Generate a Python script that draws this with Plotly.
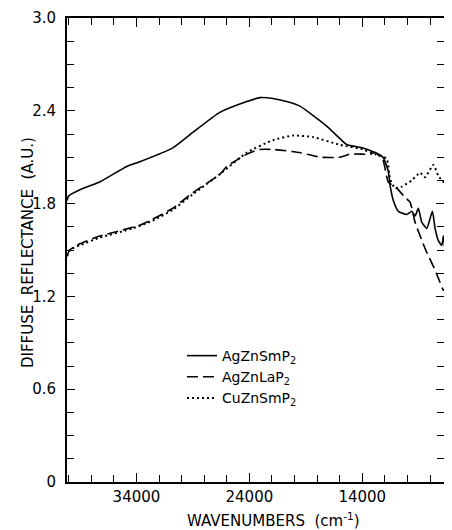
import plotly.graph_objects as go

# wavenumber (cm-1) and reflectance values
wn_agznsm = [40150, 40000, 39000, 37250, 34860, 33710, 30782, 29009, 26616, 24222,
             23070, 21917, 20700, 19524, 17130, 15978, 15357, 13939, 12875, 12166,
             11699, 11545, 11252, 10810, 10064, 9621, 9329, 9036, 8735, 8292,
             7796, 7557, 7263, 6962, 6820, 6669, 6377, 6226, 6075]
r_agznsm = [1.82, 1.85, 1.89, 1.94, 2.04, 2.07, 2.16, 2.26, 2.39, 2.46,
            2.485, 2.48, 2.46, 2.43, 2.30, 2.22, 2.18, 2.16, 2.13, 2.10,
            2.01, 1.92, 1.82, 1.75, 1.73, 1.75, 1.72, 1.77, 1.68, 1.64,
            1.75, 1.64, 1.56, 1.53, 1.59, 1.50, 1.61, 1.58, 1.60]

wn_agznla = [40150, 39913, 39026, 37250, 33710, 32555, 30782, 29009, 26616, 25995,
             24222, 23070, 21917, 19524, 17750, 15978, 15091, 13318, 12875, 12166,
             11699, 10950, 10215, 9772, 9329, 8442, 7557, 7113, 6820, 6519, 6075]
r_agznla = [1.46, 1.50, 1.54, 1.59, 1.66, 1.70, 1.77, 1.87, 1.99, 2.04,
            2.12, 2.15, 2.15, 2.13, 2.10, 2.10, 2.12, 2.12, 2.13, 2.08,
            1.94, 1.90, 1.84, 1.81, 1.68, 1.51, 1.37, 1.29, 1.24, 1.26, 1.29]

wn_cuznsm = [40150, 39913, 39026, 37250, 34330, 32555, 30782, 29009, 26616, 24222,
             21917, 20144, 18371, 15978, 13939, 12875, 11838, 11545, 11102, 10508,
             9621, 8886, 8442, 7707, 7263, 6820, 6519, 6315]
r_cuznsm = [1.46, 1.50, 1.53, 1.58, 1.64, 1.69, 1.76, 1.86, 1.99, 2.13,
            2.21, 2.24, 2.23, 2.18, 2.15, 2.12, 2.09, 1.96, 1.90, 1.91,
            1.95, 2.00, 1.97, 2.05, 1.98, 1.94, 1.98, 2.10]

y_tickvals = [0, 0.6, 1.2, 1.8, 2.4, 3.0]
y_ticktext = ["0", "0.6", "1.2", "1.8", "2.4", "3.0"]

fnt = "DejaVu Sans"

fig = go.Figure()
fig.add_trace(go.Scatter(x=wn_agznsm, y=r_agznsm, mode="lines", name="AgZnSmP<sub>2</sub>",
                         line=dict(color="black", width=1.6, shape="spline", smoothing=0.5)))
fig.add_trace(go.Scatter(x=wn_agznla, y=r_agznla, mode="lines", name="AgZnLaP<sub>2</sub>",
                         line=dict(color="black", width=1.6, dash="11px,5px",
                                   shape="spline", smoothing=0.5)))
fig.add_trace(go.Scatter(x=wn_cuznsm, y=r_cuznsm, mode="lines", name="CuZnSmP<sub>2</sub>",
                         line=dict(color="black", width=2, dash="2px,3px",
                                   shape="spline", smoothing=0.5)))

fig.update_xaxes(range=[40150, 6765], showline=True, linecolor="black", linewidth=2,
                 mirror="allticks", ticks="inside", ticklen=9, tickcolor="black",
                 tick0=4000, dtick=10000, tickformat="d", showgrid=False, zeroline=False,
                 automargin=False,
                 minor=dict(dtick=2000, ticks="inside", ticklen=7, tickcolor="black"),
                 tickfont=dict(family=fnt, size=15, color="black"))
fig.update_yaxes(range=[0, 3.0], showline=True, linecolor="black", linewidth=2,
                 mirror="allticks", ticks="inside", ticklen=8, tickcolor="black",
                 tickmode="array", tickvals=y_tickvals, ticktext=y_ticktext,
                 showgrid=False, zeroline=False, ticklabelstandoff=6, automargin=False,
                 minor=dict(tick0=0, dtick=0.15, ticks="inside", ticklen=7, tickcolor="black"),
                 tickfont=dict(family=fnt, size=15, color="black"))

# axis titles as annotations so they sit where the original has them
fig.add_annotation(text="WAVENUMBERS  (cm<sup>-1</sup>)", xref="paper", yref="paper",
                   x=0.549, y=0, yshift=-38, xanchor="center", yanchor="middle",
                   showarrow=False, font=dict(family=fnt, size=15, color="black"))
fig.add_annotation(text="DIFFUSE  REFLECTANCE  (A.U.)", xref="paper", yref="paper",
                   x=0, xshift=-39, y=0.5, yshift=-3, xanchor="center", yanchor="middle",
                   showarrow=False, textangle=-90,
                   font=dict(family=fnt, size=15, color="black"))

# page body has an 8px margin, so the margins are shifted to land the frame in place
fig.update_layout(width=452, height=530, margin=dict(l=59, r=16, t=10, b=56),
                  paper_bgcolor="white", plot_bgcolor="white",
                  font=dict(family=fnt, color="black"),
                  legend=dict(x=0.305, y=0.306, xanchor="left", yanchor="top",
                              itemwidth=30, bgcolor="rgba(0,0,0,0)",
                              tracegroupgap=0,
                              font=dict(family=fnt, size=14, color="black")))

fig.write_html("out.html")
